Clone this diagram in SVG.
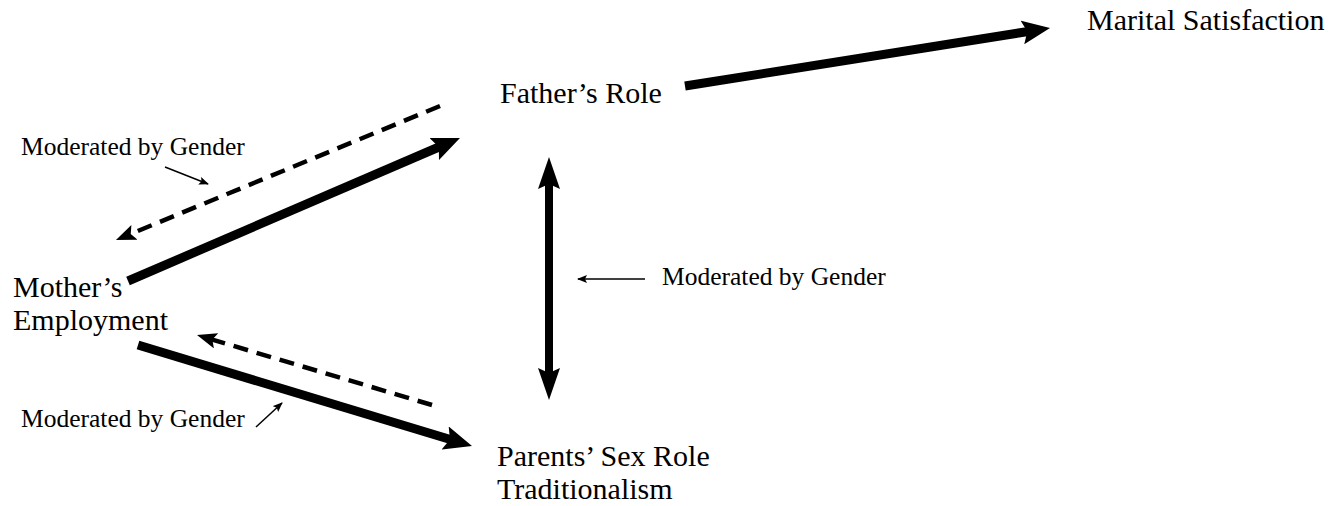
<svg xmlns="http://www.w3.org/2000/svg" width="1341" height="506" viewBox="0 0 1341 506">
<style>
  .big { font-family: "Liberation Serif", "Times New Roman", serif; font-size: 30px; fill: #000; }
  .small { font-family: "Liberation Serif", "Times New Roman", serif; font-size: 25.5px; fill: #000; }
  .thick { stroke: #000; stroke-width: 9; fill: none; marker-end: url(#headL); }
  .dash { stroke: #000; stroke-width: 4.5; fill: none; stroke-dasharray: 15 9; marker-end: url(#headS); }
  .thin { stroke: #000; stroke-width: 1.5; fill: none; marker-end: url(#headT); }
</style>
<defs>
  <marker id="headL" viewBox="0 0 28 24" markerWidth="28" markerHeight="24" refX="14" refY="12" orient="auto" markerUnits="userSpaceOnUse">
    <path d="M0,0 L28,12 L0,24 L5,12 Z" fill="#000"/>
  </marker>
  <marker id="headV" viewBox="0 0 32 22" markerWidth="32" markerHeight="22" refX="16" refY="11" orient="auto-start-reverse" markerUnits="userSpaceOnUse">
    <path d="M0,0 L32,11 L0,22 L5,11 Z" fill="#000"/>
  </marker>
  <marker id="headS" viewBox="0 0 20 16" markerWidth="20" markerHeight="16" refX="10" refY="8" orient="auto" markerUnits="userSpaceOnUse">
    <path d="M0,0 L20,8 L0,16 L4,8 Z" fill="#000"/>
  </marker>
  <marker id="headT" viewBox="0 0 10 8" markerWidth="10" markerHeight="8" refX="9" refY="4" orient="auto" markerUnits="userSpaceOnUse">
    <path d="M0,0 L10,4 L0,8 L2,4 Z" fill="#000"/>
  </marker>
</defs>
<rect width="1341" height="506" fill="#fff"/>

<g id="connectors">
  <line class="thick" x1="128" y1="281" x2="447.1" y2="143.5"/>
  <line class="dash" x1="440" y1="106" x2="125.2" y2="236.2"/>
  <line class="thick" x1="685" y1="86" x2="1036.2" y2="30.2"/>
  <line x1="549" y1="173" x2="549" y2="384" stroke="#000" stroke-width="8" marker-start="url(#headV)" marker-end="url(#headV)"/>
  <line class="thick" x1="138" y1="345" x2="458.6" y2="442"/>
  <line class="dash" x1="432" y1="405" x2="206.6" y2="337.9"/>
  <line class="thin" x1="165" y1="167" x2="208" y2="184"/>
  <line class="thin" x1="645" y1="279" x2="578" y2="279"/>
  <line class="thin" x1="256" y1="427" x2="282" y2="403"/>
</g>

<g id="marital-satisfaction">
  <text class="big" x="1087" y="30">Marital Satisfaction</text>
</g>
<g id="fathers-role">
  <text class="big" x="500" y="103">Father’s Role</text>
</g>
<g id="mothers-employment">
  <text class="big" x="13" y="297">Mother’s</text>
  <text class="big" x="13" y="330">Employment</text>
</g>
<g id="parents-sex-role">
  <text class="big" x="497" y="466">Parents’ Sex Role</text>
  <text class="big" x="497" y="499">Traditionalism</text>
</g>
<g id="label-top">
  <text class="small" x="21" y="155">Moderated by Gender</text>
</g>
<g id="label-middle">
  <text class="small" x="662" y="285">Moderated by Gender</text>
</g>
<g id="label-bottom">
  <text class="small" x="21" y="427">Moderated by Gender</text>
</g>
</svg>
